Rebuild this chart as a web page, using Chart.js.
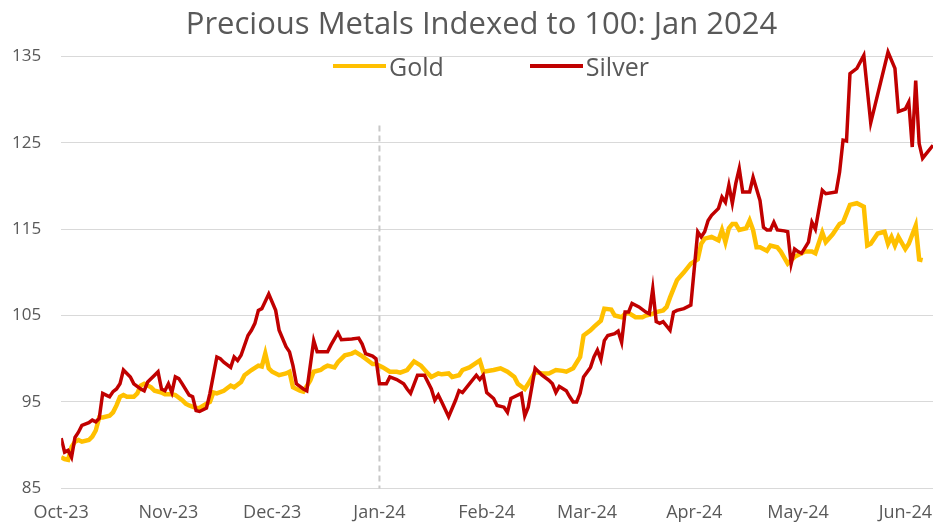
<!DOCTYPE html>
<html>
  <head>
    <script src="https://cdn.jsdelivr.net/npm/chart.js@4"></script>
    <style>
      body { margin: 0; background: #fff; }
      #wrap { position: relative; width: 933px; height: 523px; }
      #title { position: absolute; top: 2px; left: 30px; width: 903px; text-align: center; font-family: 'Open Sans', sans-serif; font-size: 31px; color: #595959; line-height: 40px; }
      #legend { position: absolute; top: 49px; left: 333px; display: flex; font-family: 'Open Sans', sans-serif; font-size: 25px; color: #595959; }
      #legend .item { display: flex; align-items: center; margin-right: 86px; }
      #legend .swatch { width: 53px; height: 4px; margin-right: 3px; }
    </style>
  </head>

  <body>
    <div id="wrap">
      <canvas id="canvas" width="933" height="523"></canvas>
      <div id="title">Precious Metals Indexed to 100: Jan 2024</div>
      <div id="legend"></div>
    </div>
    <script>
      // x values are calendar days counted from 2 Oct 2023
      const monthDays = [0, 31, 61, 92, 123, 152, 183, 213, 244];
      const monthLabels = ['Oct-23', 'Nov-23', 'Dec-23', 'Jan-24', 'Feb-24', 'Mar-24', 'Apr-24', 'May-24', 'Jun-24'];
      const yTicks = [85, 95, 105, 115, 125, 135];
      const baseDay = 92; // Jan-24, the index base

      const goldDays = [
        0, 1, 2, 3, 4, 5, 6, 8, 9, 10, 11, 12, 14, 15, 16, 17, 18, 19, 21, 22, 23, 24, 26, 27, 29, 30, 32, 33, 35, 36,
        37, 39, 40, 42, 43, 44, 45, 47, 49, 50, 52, 53, 55, 57, 58, 59, 60, 61, 63, 65, 66, 67, 69, 70, 72, 73, 75, 76, 77, 79,
        80, 82, 84, 85, 87, 88, 90, 91, 93, 95, 97, 98, 100, 102, 104, 106, 107, 109, 110, 112, 113, 115, 116, 118, 121, 122, 125, 127, 129, 131,
        132, 134, 135, 137, 139, 141, 143, 145, 146, 148, 150, 151, 153, 154, 156, 157, 159, 160, 162, 163, 164, 166, 168, 169, 171, 172, 174, 175, 176, 178,
        180, 182, 184, 185, 186, 188, 190, 191, 192, 193, 194, 195, 196, 198, 199, 200, 201, 202, 204, 205, 207, 208, 210, 212, 213, 215, 217, 218, 220, 221,
        223, 225, 226, 227, 228, 230, 232, 233, 234, 236, 238, 239, 240, 241, 242, 244, 245, 247, 248, 249
      ];
      const gold = [
        88.6, 88.4, 88.3, 89.8, 90.4, 90.6, 90.4, 90.6, 91.0, 91.7, 93.2, 93.2, 93.4, 93.8, 94.6, 95.6, 95.8, 95.6, 95.6, 96.0, 96.9, 97.1, 96.7, 96.3, 96.1, 95.9, 95.9, 95.8, 95.2, 94.8,
        94.6, 94.3, 94.3, 94.8, 95.0, 96.1, 96.0, 96.3, 96.9, 96.7, 97.3, 98.1, 98.7, 99.2, 99.1, 100.6, 98.9, 98.5, 98.1, 98.3, 98.5, 96.7, 96.3, 96.2, 97.5, 98.5, 98.7, 99.0, 99.2, 99.0,
        99.6, 100.4, 100.6, 100.8, 100.3, 100.0, 99.4, 99.4, 99.0, 98.5, 98.5, 98.4, 98.7, 99.7, 99.2, 98.3, 97.9, 98.3, 98.2, 98.3, 97.9, 98.1, 98.7, 99.0, 99.8, 98.5, 98.7, 98.9, 98.5, 97.9,
        97.1, 96.5, 97.1, 98.5, 98.3, 98.3, 98.7, 98.6, 98.5, 98.9, 100.2, 102.7, 103.3, 103.7, 104.4, 105.8, 105.7, 105.0, 104.8, 105.2, 105.3, 104.8, 104.8, 105.0, 105.2, 105.4, 105.6, 106.0, 107.1, 109.1,
        110.0, 111.0, 111.5, 113.3, 113.9, 114.1, 113.7, 114.9, 113.5, 115.1, 115.6, 115.6, 114.9, 115.1, 116.0, 114.9, 112.9, 112.9, 112.5, 113.1, 112.9, 112.4, 111.0, 111.8, 112.0, 112.4, 112.4, 112.2, 114.6, 113.5,
        114.4, 115.6, 115.8, 116.8, 117.8, 118.0, 117.6, 113.1, 113.3, 114.5, 114.7, 113.3, 114.1, 113.1, 114.1, 112.7, 113.3, 115.4, 111.5, 111.4
      ];

      const silverDays = [
        0, 1, 2, 3, 4, 5, 6, 8, 9, 10, 11, 12, 13, 14, 15, 16, 17, 18, 20, 21, 23, 24, 25, 27, 28, 29, 30, 31, 32, 33,
        34, 35, 37, 38, 39, 40, 42, 43, 45, 46, 47, 49, 50, 51, 52, 54, 55, 56, 57, 58, 60, 62, 63, 65, 66, 67, 68, 70, 71, 73,
        74, 77, 78, 80, 81, 84, 86, 87, 88, 90, 91, 92, 94, 95, 97, 99, 100, 101, 103, 105, 107, 108, 109, 110, 112, 114, 115, 116, 118, 120,
        121, 122, 123, 125, 126, 128, 129, 130, 131, 133, 134, 135, 137, 139, 141, 142, 143, 144, 146, 147, 148, 149, 150, 151, 153, 154, 155, 156, 157, 158,
        160, 161, 162, 163, 164, 165, 167, 169, 170, 171, 172, 173, 174, 176, 177, 178, 180, 182, 184, 185, 186, 187, 188, 190, 191, 192, 193, 194, 195, 196,
        197, 199, 200, 202, 203, 204, 205, 206, 207, 209, 210, 211, 212, 213, 214, 216, 217, 218, 220, 221, 224, 225, 226, 227, 228, 230, 232, 234, 239, 241,
        242, 244, 245, 246, 247, 248, 249, 250, 252
      ];
      const silver = [
        90.8, 89.2, 89.4, 88.6, 90.9, 91.5, 92.3, 92.6, 92.9, 92.7, 93.1, 96.0, 95.8, 95.6, 96.2, 96.5, 97.1, 98.7, 97.9, 97.1, 96.5, 96.3, 97.3, 98.1, 98.5, 96.5, 96.3, 97.1, 96.1, 97.9,
        97.7, 97.1, 95.8, 95.6, 94.0, 93.9, 94.3, 96.0, 100.2, 100.0, 99.6, 99.0, 100.2, 99.8, 100.4, 102.7, 103.3, 104.1, 105.6, 105.8, 107.5, 105.6, 103.3, 101.4, 100.8, 99.2, 97.1, 96.5, 96.3, 102.1,
        100.8, 100.8, 101.6, 103.0, 102.2, 102.3, 102.4, 101.7, 100.6, 100.3, 100.0, 97.1, 97.1, 97.9, 97.6, 97.1, 96.5, 96.0, 98.1, 98.1, 96.5, 95.2, 95.8, 95.0, 93.3, 95.2, 96.3, 96.1, 97.1, 98.1,
        97.6, 98.1, 96.1, 95.4, 94.6, 94.4, 93.8, 95.4, 95.6, 96.0, 93.4, 94.4, 98.9, 98.1, 97.5, 97.1, 96.1, 96.8, 96.3, 95.6, 95.0, 95.0, 96.0, 97.9, 99.0, 100.2, 101.0, 99.9, 102.1, 102.7,
        102.9, 103.2, 101.9, 105.4, 105.4, 106.4, 106.0, 105.4, 105.2, 108.1, 104.3, 104.1, 104.3, 103.3, 105.4, 105.6, 105.8, 106.2, 114.7, 114.1, 114.7, 116.0, 116.6, 117.4, 118.7, 118.1, 120.1, 118.0, 120.3, 122.0,
        119.3, 119.3, 121.0, 118.3, 115.2, 114.9, 114.9, 115.8, 114.9, 114.8, 114.7, 111.0, 112.7, 112.4, 112.2, 113.5, 115.8, 115.0, 119.5, 119.1, 119.3, 121.6, 125.3, 125.2, 133.0, 133.6, 135.1, 127.3, 135.5, 133.6,
        128.6, 128.9, 129.7, 124.5, 132.2, 124.9, 123.2, 123.7, 124.7
      ];

      const toPoints = (days, values) => days.map((d, i) => ({ x: d, y: values[i] }));

      // dashed marker at the base month
      const baseLine = {
        id: 'baseLine',
        beforeDatasetsDraw(chart) {
          const { ctx, scales } = chart;
          const x = scales.x.getPixelForValue(baseDay);
          ctx.save();
          ctx.strokeStyle = '#C8C8C8';
          ctx.lineWidth = 2;
          ctx.setLineDash([6, 4]);
          ctx.beginPath();
          ctx.moveTo(x, scales.y.getPixelForValue(127));
          ctx.lineTo(x, scales.y.getPixelForValue(85));
          ctx.stroke();
          ctx.restore();
        },
      };

      const chart = new Chart(document.getElementById('canvas').getContext('2d'), {
        type: 'line',
        data: {
          datasets: [
            {
              label: 'Gold',
              data: toPoints(goldDays, gold),
              borderColor: '#FFC000',
              borderWidth: 4.5,
              pointRadius: 0,
              order: 2,
            },
            {
              label: 'Silver',
              data: toPoints(silverDays, silver),
              borderColor: '#C00000',
              borderWidth: 3.5,
              pointRadius: 0,
              order: 1,
            },
          ],
        },
        options: {
          responsive: false,
          animation: false,
          layout: { padding: { left: -8, right: 0, top: 39, bottom: -15 } },
          plugins: {
            legend: { display: false },
            tooltip: { enabled: false },
            title: { display: false },
          },
          scales: {
            x: {
              type: 'linear',
              min: 0,
              max: 252,
              grid: { display: false, drawTicks: false },
              border: { display: false },
              afterBuildTicks: (axis) => {
                axis.ticks = monthDays.map((v) => ({ value: v }));
              },
              // let the plot run to the right edge; the last label may overhang
              afterFit: (axis) => {
                axis.paddingLeft = 0;
                axis.paddingRight = 0;
              },
              ticks: {
                autoSkip: false,
                maxRotation: 0,
                padding: 14,
                color: '#595959',
                font: { family: 'Open Sans', size: 18 },
                callback: (v) => monthLabels[monthDays.indexOf(v)],
              },
            },
            y: {
              min: 85,
              max: 137,
              grid: { color: '#D9D9D9', drawTicks: false },
              border: { display: false },
              afterBuildTicks: (axis) => {
                axis.ticks = yTicks.map((v) => ({ value: v }));
              },
              ticks: {
                padding: 20,
                color: '#595959',
                font: { family: 'Open Sans', size: 17 },
              },
            },
          },
        },
        plugins: [baseLine],
      });

      const legend = document.getElementById('legend');
      chart.data.datasets.forEach((ds) => {
        const item = document.createElement('div');
        item.className = 'item';
        const swatch = document.createElement('span');
        swatch.className = 'swatch';
        swatch.style.background = ds.borderColor;
        const label = document.createElement('span');
        label.textContent = ds.label;
        item.append(swatch, label);
        legend.append(item);
      });
    </script>
  </body>
</html>
